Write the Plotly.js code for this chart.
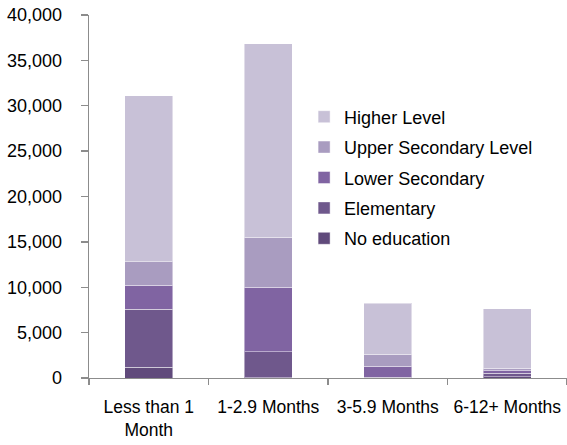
<!DOCTYPE html>
<html>
<head>
<meta charset="utf-8">
<script src="https://cdn.plot.ly/plotly-3.0.1.min.js"></script>
<style>
  html, body { margin: 0; padding: 0; background: #fff; }
  #chart { width: 567px; height: 445px; }
</style>
</head>
<body>
<div id="chart"></div>
<script>
// Unemployed persons by duration of unemployment and level of education
const categories = ["Less than 1<br>Month", "1-2.9 Months", "3-5.9 Months", "6-12+ Months"];
const noEducation = [1200, 40, 20, 150];
const elementary = [6350, 2850, 80, 400];
const lowerSecondary = [2650, 7100, 1180, 250];
const upperSecondary = [2600, 5500, 1360, 300];
const higherLevel = [18300, 21350, 5600, 6550];
const yTicks = [0, 5000, 10000, 15000, 20000, 25000, 30000, 35000, 40000];

// stacked bottom to top; the legend lists them top to bottom
const series = [
  { name: "No education", values: noEducation, color: "#604a7b" },
  { name: "Elementary", values: elementary, color: "#6f588c" },
  { name: "Lower Secondary", values: lowerSecondary, color: "#8064a2" },
  { name: "Upper Secondary Level", values: upperSecondary, color: "#a99cc0" },
  { name: "Higher Level", values: higherLevel, color: "#c8c1d7" }
];

const traces = series.map((s, i) => ({
  type: "bar",
  name: s.name,
  x: categories,
  y: s.values,
  width: 0.4,
  legendgroup: "g" + i,
  legendrank: 1000 - i,
  marker: { color: s.color, line: { color: "rgba(255,255,255,0.45)", width: 1 } },
  hoverinfo: "x+y+name"
}));

const font = { family: "Liberation Sans, Arial, sans-serif", size: 18, color: "#000" };
const xFont = { family: "Liberation Sans, Arial, sans-serif", size: 17.5, color: "#000" };

const layout = {
  width: 567,
  height: 445,
  margin: { l: 89, r: 0, t: 15, b: 67 },
  paper_bgcolor: "#fff",
  plot_bgcolor: "#fff",
  barmode: "stack",
  font: font,
  showlegend: true,
  legend: {
    x: 0.45, xanchor: "left",
    y: 0.77, yanchor: "top",
    traceorder: "grouped",
    tracegroupgap: 4,
    font: font,
    bgcolor: "rgba(0,0,0,0)"
  },
  xaxis: {
    type: "category",
    range: [-0.5, 3.5],
    showline: true,
    linecolor: "#8c8c8c",
    linewidth: 1.3,
    showgrid: false,
    zeroline: false,
    ticks: "outside",
    tickson: "boundaries",
    ticklen: 6,
    tickcolor: "#8c8c8c",
    tickwidth: 1.3,
    tickangle: 0,
    ticklabelstandoff: 13,
    tickfont: xFont
  },
  yaxis: {
    range: [0, 40000],
    tickvals: yTicks,
    tickformat: ",",
    showline: true,
    linecolor: "#8c8c8c",
    linewidth: 1.3,
    showgrid: false,
    zeroline: false,
    ticks: "outside",
    ticklen: 7,
    tickcolor: "#8c8c8c",
    tickwidth: 1.3,
    ticklabelstandoff: 15,
    tickfont: font
  }
};

Plotly.newPlot("chart", traces, layout, { displayModeBar: false, staticPlot: true });
</script>
</body>
</html>
